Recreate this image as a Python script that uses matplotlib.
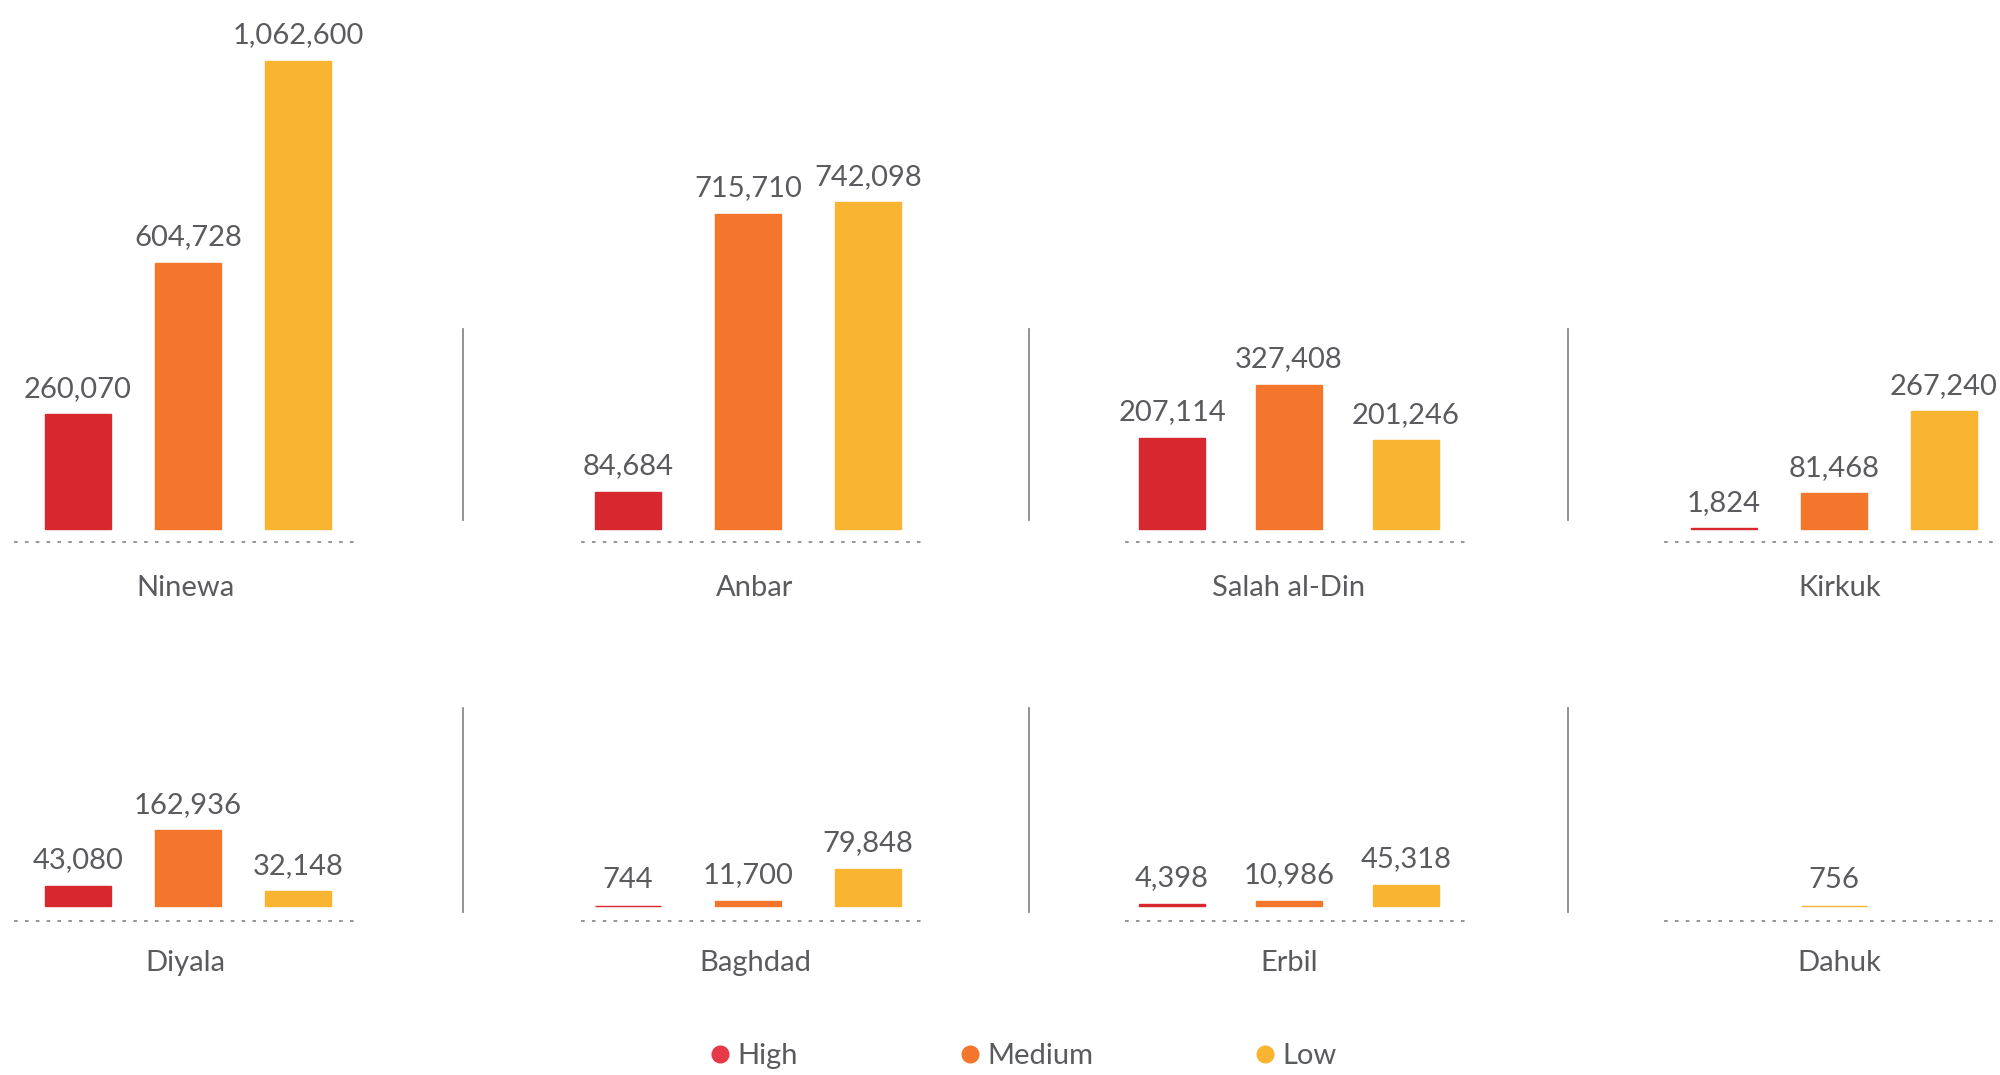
import matplotlib
matplotlib.use("Agg")
import matplotlib.pyplot as plt
from matplotlib.lines import Line2D
import matplotlib.transforms as mtransforms

plt.rcParams['font.family'] = ['Lato', 'DejaVu Sans']

# ---------------- data ----------------
top_regions = ["Ninewa", "Anbar", "Salah al-Din", "Kirkuk"]
bottom_regions = ["Diyala", "Baghdad", "Erbil", "Dahuk"]
series = ["High", "Medium", "Low"]
high_top = [260070, 84684, 207114, 1824]
medium_top = [604728, 715710, 327408, 81468]
low_top = [1062600, 742098, 201246, 267240]
high_bottom = [43080, 744, 4398, None]
medium_bottom = [162936, 11700, 10986, None]
low_bottom = [32148, 79848, 45318, 756]

# ---------------- style ----------------
bar_colors = ["#D7282F", "#F4762D", "#F9B532"]
legend_colors = ["#E63A48", "#F4762D", "#F9B532"]
text_color = "#5A5B5E"
line_color = "#8A8A8A"
FS = 21

W, H = 2000, 1075
fig = plt.figure(figsize=(20, 10.75), dpi=100)

# column layout (px): dotted-line left, right, first bar centre, last bar centre
cols = [(15, 360, 78, 298), (582, 923, 628, 868), (1126, 1469, 1172, 1406), (1665, 2000, 1724, 1944)]
# row layout (px): axes top, zero line, dotted baseline, value per pixel, label offset (pt)
rows = [(30, 529, 542, 2270, -33), (690, 906, 921, 2150, -30)]
bar_px = 66
label_dx = [-2, 5, 0, 4]


def fig_rect(x0, x1, y_top, y_bot):
    return [x0 / W, 1 - y_bot / H, (x1 - x0) / W, (y_bot - y_top) / H]


data_rows = [(top_regions, [high_top, medium_top, low_top]),
             (bottom_regions, [high_bottom, medium_bottom, low_bottom])]

for r, (regions, vals) in enumerate(data_rows):
    ytop, yzero, ybase, k, loff = rows[r]
    for c, name in enumerate(regions):
        dl, dr, c0, c2 = cols[c]
        s = (c2 - c0) / 2
        ax = fig.add_axes(fig_rect(dl, dr, ytop, ybase))
        ax.set_xlim((dl - c0) / s, (dr - c0) / s)
        ax.set_ylim(-(ybase - yzero) * k, (yzero - ytop) * k)
        present = [(i, v[c]) for i, v in enumerate(vals) if v[c] is not None]
        xs = [1] if len(present) == 1 else [i for i, _ in present]
        for x, (i, v) in zip(xs, present):
            ax.bar(x, v, width=bar_px / s, color=bar_colors[i],
                   edgecolor=bar_colors[i], linewidth=1.0)
            ax.annotate(f"{v:,}", (x, v), xytext=(0, 9), textcoords='offset points',
                        ha='center', va='bottom', fontsize=FS, color=text_color)
        for sp in ['top', 'left', 'right']:
            ax.spines[sp].set_visible(False)
        ax.spines['bottom'].set_linestyle((0, (1, 5)))
        ax.spines['bottom'].set_linewidth(1.3)
        ax.spines['bottom'].set_color("#8C8C8C")
        ax.set_xticks([])
        ax.set_yticks([])
        ax.patch.set_alpha(0)
        trans = mtransforms.blended_transform_factory(ax.transData, ax.transAxes)
        ax.annotate(name, (1, 0), xycoords=trans, xytext=(label_dx[c], loff), textcoords='offset points',
                    ha='center', va='center', fontsize=FS, color=text_color)

# vertical separators
sep_x = [463, 1029, 1568]
sep_y = [(329, 520), (708, 912)]
for (y0, y1) in sep_y:
    for x in sep_x:
        fig.add_artist(Line2D([x / W, x / W], [1 - y0 / H, 1 - y1 / H],
                              transform=fig.transFigure, color=line_color, lw=1.3))

# legend
handles = [Line2D([], [], marker='o', linestyle='none', markersize=12,
                  markerfacecolor=col, markeredgecolor=col) for col in legend_colors]
fig.legend(handles, series, loc='center', bbox_to_anchor=(0.512, 1 - 1056 / H), ncol=3,
           frameon=False, fontsize=FS, handlelength=0.6, handletextpad=0.3,
           columnspacing=5.6, labelcolor=text_color)

fig.savefig("out.png", dpi=100)
